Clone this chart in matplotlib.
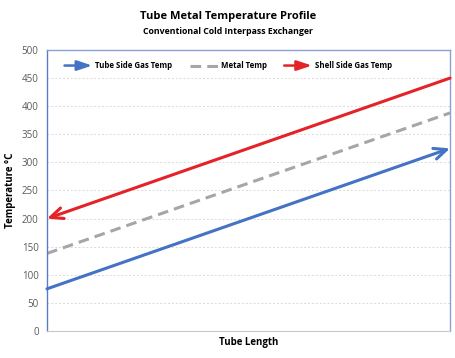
import matplotlib
matplotlib.use("Agg")
import matplotlib.pyplot as plt
from matplotlib.patches import FancyArrowPatch
from matplotlib.legend_handler import HandlerBase
from matplotlib.lines import Line2D

plt.rcParams['font.family'] = ['Open Sans', 'DejaVu Sans']

x_pos = [0, 1]
tube_side = [75, 325]
metal = [138, 388]
shell_side = [450, 200]
shell_x = [1, 0]
yticks = [0, 50, 100, 150, 200, 250, 300, 350, 400, 450, 500]

blue = '#4472C4'
red = '#E52228'
gray = '#A6A6A6'

fig = plt.figure(figsize=(4.56, 3.58), dpi=100)
ax = fig.add_axes([0.103, 0.0754, 0.884, 0.785])

for y in yticks[1:-1]:
    ax.axhline(y, color='#D9D9D9', lw=0.7, ls=(0, (2, 2)), zorder=0)

ax.plot(x_pos, metal, color=gray, lw=2.2, ls=(0, (3.5, 2)), zorder=2)
ax.annotate('', xy=(x_pos[1], tube_side[1]), xytext=(x_pos[0], tube_side[0]),
            arrowprops=dict(arrowstyle='->,head_length=0.9,head_width=0.4', color=blue, lw=2.2,
                            shrinkA=0, shrinkB=0), zorder=3)
ax.annotate('', xy=(shell_x[1], shell_side[1]), xytext=(shell_x[0], shell_side[0]),
            arrowprops=dict(arrowstyle='->,head_length=0.9,head_width=0.4', color=red, lw=2.2,
                            shrinkA=0, shrinkB=0), zorder=3)

ax.set_xlim(0, 1)
ax.set_ylim(0, 500)
ax.set_yticks(yticks)
ax.set_xticks([])
ax.tick_params(axis='y', length=0, labelsize=7, colors='#595959', pad=6)
for s in ['left', 'top', 'right']:
    ax.spines[s].set_color('#8E9FD6')
    ax.spines[s].set_linewidth(1.0)
ax.spines['left'].set_color('#5B7BC8')
ax.spines['bottom'].set_color('#C8C8C8')
ax.spines['bottom'].set_linewidth(0.8)

ax.set_ylabel('Temperature °C', fontsize=7, fontweight='bold', labelpad=4)
ax.set_xlabel('Tube Length', fontsize=7, fontweight='bold', labelpad=4)

fig.text(0.5, 0.955, 'Tube Metal Temperature Profile', ha='center', va='center',
         fontsize=8, fontweight='bold')
fig.text(0.5, 0.913, 'Conventional Cold Interpass Exchanger', ha='center', va='center',
         fontsize=6.3, fontweight='bold')


class ArrowHandler(HandlerBase):
    def create_artists(self, legend, orig_handle, xdescent, ydescent, width, height, fontsize, trans):
        y = height / 2 - ydescent
        p = FancyArrowPatch((-xdescent, y), (-xdescent + width, y),
                            arrowstyle='-|>,head_length=0.9,head_width=0.3',
                            color=orig_handle.get_color(), lw=1.8, mutation_scale=10,
                            shrinkA=0, shrinkB=0, transform=trans)
        return [p]


h1 = Line2D([], [], color=blue)
h2 = Line2D([], [], color=gray, lw=2.2, ls=(0, (3.5, 2)))
h3 = Line2D([], [], color=red)
leg = ax.legend([h1, h2, h3], ['Tube Side Gas Temp', 'Metal Temp', 'Shell Side Gas Temp'],
                handler_map={h1: ArrowHandler(), h3: ArrowHandler()},
                loc='upper center', bbox_to_anchor=(0.45, 0.985), ncol=3, frameon=False,
                fontsize=5.7, handlelength=3.5, columnspacing=2.2, handletextpad=0.4)
for t in leg.get_texts():
    t.set_fontweight('bold')

fig.savefig('out.png', dpi=100, facecolor='white')
